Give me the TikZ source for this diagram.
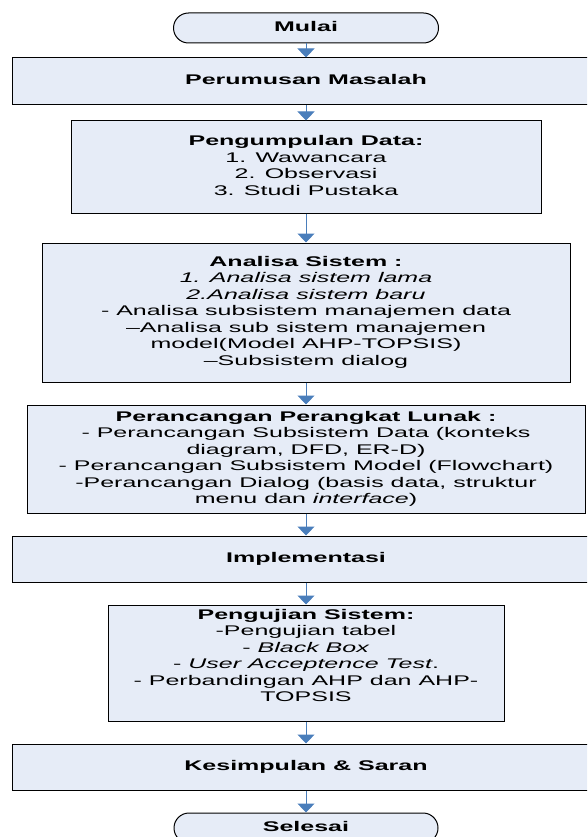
\documentclass[tikz,border=0pt]{standalone}
\usepackage{graphicx}
\usepackage{fontspec}
\setmainfont{Liberation Sans}
\usetikzlibrary{arrows.meta,shapes.misc}

\definecolor{boxfill}{HTML}{E6ECF7}
\definecolor{flowblue}{HTML}{4A7EBB}

% widened, centred multi-line text block
\newcommand{\wideblock}[2][c]{\scalebox{1.786}[1]{\begin{tabular}[#1]{@{}c@{}}#2\end{tabular}}}

\begin{document}
\begin{tikzpicture}[x=1pt,y=-1pt,
  box/.style={draw=black, line width=1pt, fill=boxfill, inner sep=0pt,
              font=\fontsize{14}{16.5}\selectfont},
  stepbox/.style={box, rectangle},
  term/.style={box, rounded rectangle},
  flow/.style={draw=flowblue, line width=1pt, -{Triangle[width=17pt,length=9pt]}}
]
\useasboundingbox (0,0) rectangle (587,837);
\clip (0,0) rectangle (587,837);

% process steps
\node[term, minimum width=265pt, minimum height=30pt] (mulai) at (306,28)
  {\wideblock{\textbf{Mulai}}};
\node[stepbox, minimum width=588pt, minimum height=47pt] (rumusan) at (306,81.5)
  {\wideblock{\textbf{Perumusan Masalah}}};
\node[stepbox, minimum width=470pt, minimum height=92pt] (kumpul) at (306,167)
  {\wideblock{\textbf{Pengumpulan Data:}\\ 1. Wawancara\\ 2. Observasi\\ 3. Studi Pustaka}};
\node[stepbox, minimum width=528pt, minimum height=139pt] (analisa) at (306,312.5)
  {\wideblock{\textbf{Analisa Sistem :}\\
   \textit{1. Analisa sistem lama}\\
   \textit{2.Analisa sistem baru}\\
   - Analisa subsistem manajemen data\\
   –Analisa sub sistem manajemen\\
   model(Model AHP-TOPSIS)\\
   –Subsistem dialog}};
\node[stepbox, minimum width=558pt, minimum height=108pt] (rancang) at (306,459)
  {\wideblock{\textbf{Perancangan Perangkat Lunak :}\\
   - Perancangan Subsistem Data (konteks\\
   diagram, DFD, ER-D)\\
   - Perancangan Subsistem Model (Flowchart)\\
   -Perancangan Dialog (basis data, struktur\\
   menu dan \textit{interface})}};
\node[stepbox, minimum width=588pt, minimum height=46pt] (implement) at (306,559)
  {\wideblock{\textbf{Implementasi}}};
\node[stepbox, minimum width=396pt, minimum height=116pt, text depth=99pt] (uji) at (306,663)
  {\wideblock[t]{\textbf{Pengujian Sistem:}\\
   -Pengujian tabel\\
   - \textit{Black Box}\\
   - \textit{User Acceptence Test}.\\
   - Perbandingan AHP dan AHP-\\
   TOPSIS}};
\node[stepbox, minimum width=588pt, minimum height=46pt] (simpul) at (306,767)
  {\wideblock{\textbf{Kesimpulan \& Saran}}};
\node[term, minimum width=264pt, minimum height=30pt] (selesai) at (306,828)
  {\wideblock{\textbf{Selesai}}};

% connectors
\draw[flow] (mulai.south) -- (rumusan.north);
\draw[flow] (rumusan.south) -- (kumpul.north);
\draw[flow] (kumpul.south) -- (analisa.north);
\draw[flow] (analisa.south) -- (rancang.north);
\draw[flow] (rancang.south) -- (implement.north);
\draw[flow] (implement.south) -- (uji.north);
\draw[flow] (uji.south) -- (simpul.north);
\draw[flow] (simpul.south) -- (selesai.north);
\end{tikzpicture}
\end{document}
